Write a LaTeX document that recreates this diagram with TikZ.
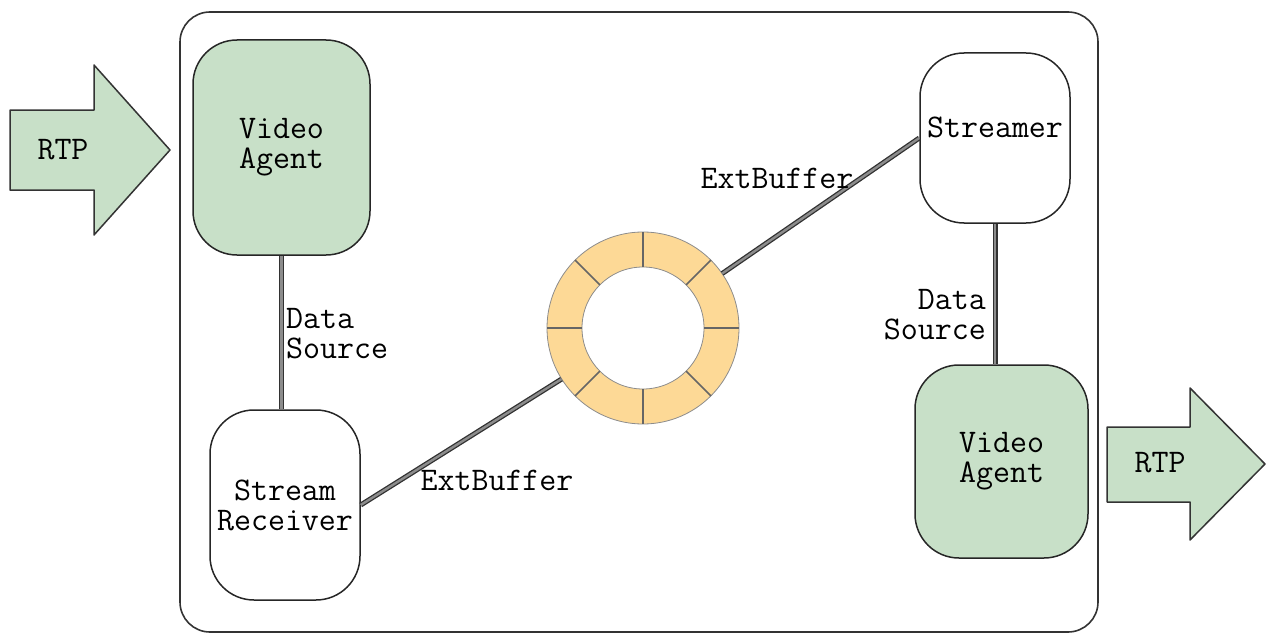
\documentclass[tikz,border=0pt]{standalone}
\usepackage{fontspec}
\definecolor{agentgreen}{RGB}{200,224,200}
\definecolor{ringfill}{RGB}{253,217,150}
\definecolor{linegray}{RGB}{50,50,50}
\begin{document}
\begin{tikzpicture}[x=1pt,y=-1pt,
  font=\ttfamily\fontsize{33}{30}\selectfont,
  box/.style={draw=black!85, line width=1.5pt, rounded corners=44pt, align=center, inner sep=0pt},
  agent/.style={box, fill=agentgreen},
  plain/.style={box, fill=white},
  conn/.style={draw=linegray, line width=1.3pt, double=black!45, double distance=2.4pt},
  outerbox/.style={draw=black!80, line width=1.6pt, rounded corners=30pt},
  bigarrow/.style={draw=black!80, fill=agentgreen, line width=1.5pt, line join=round},
  lbl/.style={inner sep=0pt}
]
\useasboundingbox (0,0) rectangle (1267,634);

% outer container
\draw[outerbox] (180,12) rectangle (1098,632);

% RTP arrows
\draw[bigarrow] (10,110) -- (94,110) -- (94,65) -- (170,150) -- (94,235) -- (94,190) -- (10,190) -- cycle;
\node[lbl] (rtpin) at (63,150) {RTP};
\draw[bigarrow] (1107,427) -- (1190,427) -- (1190,388) -- (1265,464) -- (1190,540) -- (1190,502) -- (1107,502) -- cycle;
\node[lbl] (rtpout) at (1160,463) {RTP};

% nodes
\node[agent, minimum width=177pt, minimum height=215pt] (va1) at (281.5,147.5) {Video\\Agent};
\node[plain, minimum width=150pt, minimum height=190pt] (sr) at (285,505) {Stream\\Receiver};
\node[plain, minimum width=150pt, minimum height=170pt] (st) at (995,138) {\raisebox{11pt}[\height][\depth]{Streamer}};
\node[agent, minimum width=173pt, minimum height=193pt] (va2) at (1001.5,461.5) {Video\\Agent};

% ring buffer
\node[circle, minimum size=192pt, inner sep=0pt] (ring) at (643,328) {};
\fill[ringfill, even odd rule] (ring.center) circle[radius=96] (ring.center) circle[radius=61];
\draw[black!45, line width=0.8pt] (ring.center) circle[radius=96];
\draw[black!45, line width=0.8pt] (ring.center) circle[radius=61];
\foreach \a in {0,45,...,315}
  \draw[black!60, line width=1.6pt] (ring.center) ++(\a:61) -- ++(\a:35);

% connectors
\draw[conn] (va1.south) -- (va1.south |- sr.north);
\draw[conn] (st.south) -- (st.south |- va2.north);
\draw[conn] (sr.east) -- (ring);
\draw[conn] (ring) -- (st.west);

% labels
\node[lbl, anchor=west, align=left] (ds1) at (286,334) {Data\\Source};
\node[lbl, anchor=east, align=right] (ds2) at (986,315) {Data\\Source};
\node[lbl] (eb1) at (497,480) {ExtBuffer};
\node[lbl] (eb2) at (777,178) {ExtBuffer};
\end{tikzpicture}
\end{document}
